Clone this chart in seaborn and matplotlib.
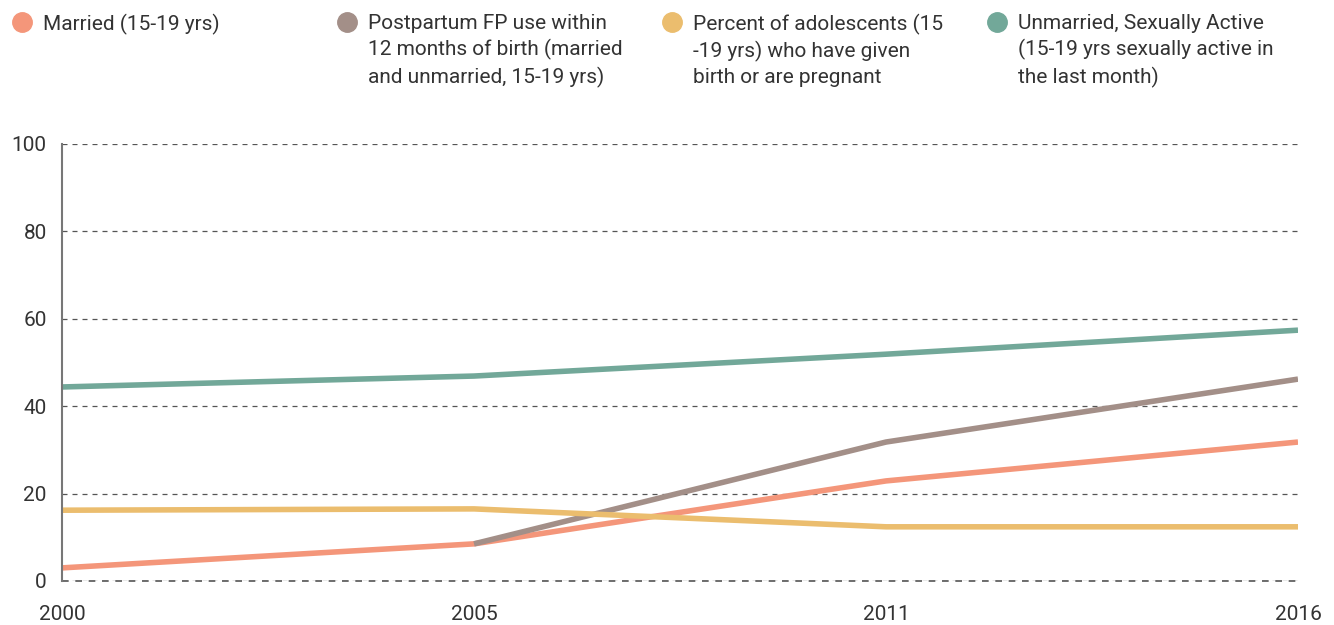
import pandas as pd
import seaborn as sns
import matplotlib.pyplot as plt
from matplotlib.lines import Line2D

# Data
years = ['2000', '2005', '2011', '2016']
married = [3.0, 8.5, 22.9, 31.8]
postpartum = [None, 8.5, 31.8, 46.2]
gave_birth = [16.2, 16.5, 12.4, 12.4]
unmarried_active = [44.4, 46.9, 51.9, 57.4]

labels = [
    'Married (15-19 yrs)',
    'Postpartum FP use within\n12 months of birth (married\nand unmarried, 15-19 yrs)',
    'Percent of adolescents (15\n-19 yrs) who have given\nbirth or are pregnant',
    'Unmarried, Sexually Active\n(15-19 yrs sexually active in\nthe last month)',
]
colors = ['#F4967A', '#A38F88', '#EBBD6E', '#72A899']

# Build long-form table
rows = []
for label, values in zip(labels, [married, postpartum, gave_birth, unmarried_active]):
    for i, v in enumerate(values):
        if v is not None:
            rows.append({'pos': i, 'value': v, 'series': label})
df = pd.DataFrame(rows)

sns.set_style('white')
plt.rcParams['font.family'] = ['Roboto', 'DejaVu Sans']
text_color = '#333333'
W, H = 1334, 625

fig = plt.figure(figsize=(W / 100, H / 100), dpi=100)
ax = fig.add_axes([62 / W, 1 - 581 / H, 1236 / W, 437 / H])

sns.lineplot(data=df, x='pos', y='value', hue='series', hue_order=labels,
             palette=colors, linewidth=4, legend=False, ax=ax,
             solid_capstyle='butt')

ax.set_xlim(0, 3)
ax.set_ylim(0, 100)
ax.set_xticks(range(len(years)))
ax.set_xticklabels(years)
ax.set_yticks([0, 20, 40, 60, 80, 100])
ax.set_xlabel('')
ax.set_ylabel('')

ax.yaxis.grid(True, linestyle=(0, (4, 4)), color='#555555', linewidth=0.9)
ax.set_axisbelow(True)
ax.axhline(0, color='#555555', linestyle=(0, (4, 4)), linewidth=1.2,
           clip_on=False, zorder=0)
for s in ['top', 'right', 'bottom']:
    ax.spines[s].set_visible(False)
ax.spines['left'].set_color('#777777')
ax.spines['left'].set_linewidth(1.5)

ax.tick_params(axis='y', length=0, pad=11, labelsize=15, labelcolor=text_color)
ax.tick_params(axis='x', length=0, pad=17, labelsize=15, labelcolor=text_color)

# Legend: one column per series across the top
legend_px = [22, 347, 672, 997]
for px, label, c in zip(legend_px, labels, colors):
    fig.add_artist(Line2D([px / W], [1 - 22 / H], marker='o', markersize=14,
                          markerfacecolor=c, markeredgecolor=c,
                          linestyle='', transform=fig.transFigure))
    fig.text((px + 21) / W, 1 - 14 / H, label, ha='left', va='top',
             fontsize=15, color=text_color, linespacing=1.38)

fig.savefig('out.png', dpi=100)
plt.close('all')
